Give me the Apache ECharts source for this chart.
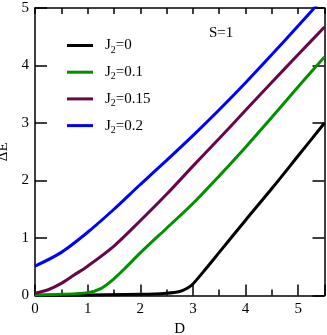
<!DOCTYPE html>
<html>
<head>
<meta charset="utf-8">
<script src="https://cdn.jsdelivr.net/npm/echarts@6/dist/echarts.min.js"></script>
<style>
  html, body { margin: 0; padding: 0; background: #fff; }
  #chart { width: 327px; height: 335px; }
</style>
</head>
<body>
<div id="chart"></div>
<script>
// gap vs D, S=1, one curve per J2
const seriesNames = ['J2=0', 'J2=0.1', 'J2=0.15', 'J2=0.2']
const seriesLabels = ['0', '0.1', '0.15', '0.2']
const seriesColors = ['#000000', '#009000', '#67074a', '#0000ff']

const blackD = [0, 1, 2, 2.5, 2.75, 2.9, 3, 3.25, 3.5, 4, 4.5, 5, 5.5]
const blackE = [0, 0.01, 0.02, 0.04, 0.07, 0.13, 0.2, 0.47, 0.75, 1.31, 1.86, 2.43, 3.0]

const greenD = [0, 0.5, 1, 1.25, 1.5, 1.75, 2, 2.5, 3, 3.5, 4, 4.5, 5, 5.5]
const greenE = [0.01, 0.02, 0.05, 0.12, 0.29, 0.51, 0.74, 1.17, 1.6, 2.08, 2.58, 3.1, 3.63, 4.15]

const purpleD = [0, 0.25, 0.5, 0.75, 1, 1.5, 2, 2.5, 3, 3.5, 4, 4.5, 5, 5.5]
const purpleE = [0.04, 0.1, 0.21, 0.36, 0.51, 0.86, 1.3, 1.76, 2.25, 2.73, 3.22, 3.71, 4.19, 4.67]

const blueD = [0, 0.5, 1, 1.5, 2, 2.5, 3, 3.5, 4, 4.5, 5, 5.5]
const blueE = [0.51, 0.75, 1.1, 1.5, 1.93, 2.35, 2.78, 3.23, 3.7, 4.19, 4.69, 5.2]

const xTicks = [0, 1, 2, 3, 4, 5]
const yTicks = [0, 1, 2, 3, 4, 5]

const curves = [[blackD, blackE], [greenD, greenE], [purpleD, purpleE], [blueD, blueE]]
const font = 'Liberation Serif'

const el = echarts.init(document.getElementById('chart'))

const axisBase = {
  type: 'value',
  axisLine: { show: true, onZero: false, lineStyle: { color: '#000', width: 1.5 } },
  splitLine: { show: false }
}

const option = {
  animation: false,
  textStyle: { fontFamily: font },
  grid: { left: 35, right: 2.5, top: 8, bottom: 39.5, containLabel: false, outerBoundsMode: 'none' },
  title: {
    text: 'S=1', left: 204, top: 21,
    textStyle: { fontFamily: font, fontSize: 15, fontWeight: 'normal', color: '#000' }
  },
  legend: {
    orient: 'vertical', left: 62, top: 31,
    icon: 'rect', itemWidth: 26, itemHeight: 3, itemGap: 7.7,
    data: seriesNames,
    formatter: name => {
      const i = seriesNames.indexOf(name)
      return '{j|J}{s|2}{j|=' + seriesLabels[i] + '}'
    },
    textStyle: {
      padding: [0, 0, 0, 7],
      rich: {
        j: { fontFamily: font, fontSize: 15, color: '#000', lineHeight: 18 },
        s: { fontFamily: font, fontSize: 10, color: '#000', lineHeight: 18, padding: [9, 0, 0, 0] }
      }
    }
  },
  xAxis: [
    Object.assign({}, axisBase, {
      min: xTicks[0], max: 5.5, interval: 1,
      name: 'D', nameLocation: 'middle', nameGap: 20,
      nameTextStyle: { fontFamily: font, fontSize: 15, color: '#000' },
      axisTick: { show: true, inside: true, length: 11, lineStyle: { color: '#000', width: 1.5 } },
      minorTick: { show: true, splitNumber: 2, length: 6, lineStyle: { color: '#000', width: 1.5 } },
      axisLabel: {
        fontFamily: font, fontSize: 15, color: '#000', margin: 6, showMaxLabel: false,
        formatter: v => (xTicks.indexOf(v) >= 0 ? String(v) : '')
      }
    }),
    Object.assign({}, axisBase, {
      position: 'top', min: 0, max: 5.5, interval: 0.5,
      axisTick: { show: true, inside: true, length: 6, lineStyle: { color: '#000', width: 1.5 } },
      axisLabel: { show: false }
    })
  ],
  yAxis: [
    Object.assign({}, axisBase, {
      min: yTicks[0], max: 5, interval: 1,
      name: 'ΔE', nameLocation: 'middle', nameGap: 17, nameRotate: 90,
      nameTextStyle: { fontFamily: font, fontSize: 15, color: '#000' },
      axisTick: { show: true, inside: true, length: 12, lineStyle: { color: '#000', width: 1.5 } },
      axisLabel: { fontFamily: font, fontSize: 15, color: '#000', margin: 6 }
    }),
    Object.assign({}, axisBase, {
      position: 'right', min: 0, max: 5, interval: 1,
      axisTick: { show: true, inside: true, length: 12, lineStyle: { color: '#000', width: 1.5 } },
      axisLabel: { show: false }
    })
  ],
  series: seriesNames.map((name, i) => ({
    name: name,
    type: 'line',
    xAxisIndex: 0,
    yAxisIndex: 0,
    smooth: 0.3,
    showSymbol: false,
    color: seriesColors[i],
    lineStyle: { width: 3, color: seriesColors[i] },
    data: curves[i][0].map((d, k) => [d, curves[i][1][k]])
  }))
}

el.setOption(option)
</script>
</body>
</html>
